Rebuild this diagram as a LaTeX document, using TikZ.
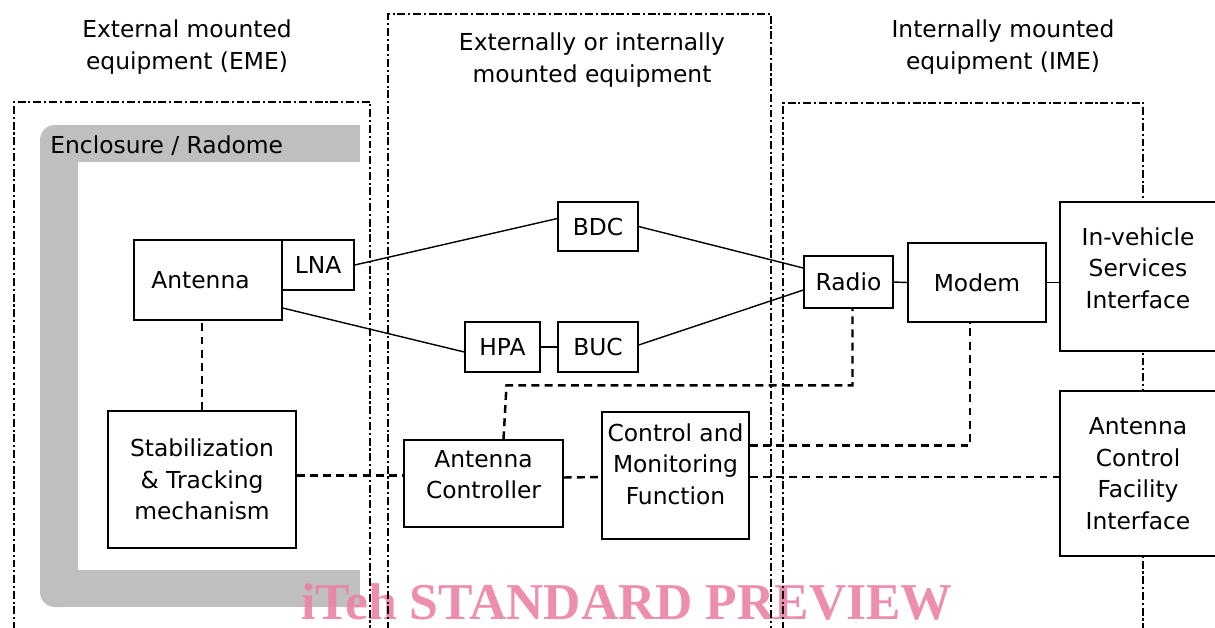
\documentclass[tikz,border=0pt]{standalone}
\usepackage{fontspec}
\setmainfont{DejaVu Sans}
\newfontfamily\wmfont{Liberation Serif}
\usetikzlibrary{calc}
\definecolor{enclgray}{RGB}{191,191,191}
\definecolor{wmpink}{RGB}{236,130,165}
\begin{document}
\begin{tikzpicture}[x=0.02cm,y=-0.02cm,
  every node/.style={font=\fontsize{13.3}{18}\selectfont},
  box/.style={draw,fill=white,line width=0.8pt,align=center,inner sep=0pt},
  link/.style={line width=0.8pt},
  ctrl/.style={line width=1.4pt,dash pattern=on 4.5pt off 3pt},
  zone/.style={line width=1.5pt,dash pattern=on 4.5pt off 1.6pt on 1.2pt off 1.6pt}]
\useasboundingbox (0,0) rectangle (1215,627);
% enclosure
\fill[enclgray,rounded corners=0.3cm] (40,125) rectangle (78,607);
\fill[enclgray] (55,125) rectangle (360,162);
\fill[enclgray] (55,570) rectangle (360,607);
\node[anchor=west,inner sep=0pt] (encl) at (50,146) {Enclosure / Radome};
% watermark
\node[text=wmpink,opacity=0.9,font=\wmfont\bfseries\fontsize{29.4}{30}\selectfont] (wm) at (627,602) {iTeh STANDARD PREVIEW};
% zones
\draw[zone] (14,630) -- (14,102) -- (370,102) -- (370,630);
\draw[zone] (388,630) -- (388,14) -- (771,14) -- (771,630);
\draw[zone] (783,630) -- (783,103) -- (1143,103) -- (1143,630);
\node[align=center] (eme) at (187,47) {External mounted\\equipment (EME)};
\node[align=center] (mid) at (592,60) {Externally or internally\\mounted equipment};
\node[align=center] (ime) at (1003,47) {Internally mounted\\equipment (IME)};
% boxes
\node[box,minimum width=2.96cm,minimum height=1.6cm] (ant) at (208,280) {Antenna\hspace{0.3cm}};
\node[box,minimum width=1.44cm,minimum height=1cm] (lna) at (318,265) {LNA};
\node[box,minimum width=3.76cm,minimum height=2.74cm] (stab) at (202,479.5) {Stabilization\\\& Tracking\\mechanism};
\node[box,minimum width=1.6cm,minimum height=0.98cm] (bdc) at (598,226.5) {BDC};
\node[box,minimum width=1.5cm,minimum height=1cm] (hpa) at (502.5,347) {HPA};
\node[box,minimum width=1.6cm,minimum height=1cm] (buc) at (598,347) {BUC};
\node[box,minimum width=1.78cm,minimum height=1.04cm] (radio) at (848.5,282) {Radio};
\node[box,minimum width=2.76cm,minimum height=1.58cm] (modem) at (977,282.5) {Modem};
\node[box,minimum width=3.12cm,minimum height=2.98cm] (ivsi) at (1138,276.5) {In-vehicle\\Services\\Interface\\[-0.295cm]};
\node[box,minimum width=3.18cm,minimum height=1.74cm] (actrl) at (483.5,483.5) {Antenna\\Controller\\[-0.275cm]};
\node[box,minimum width=2.94cm,minimum height=2.54cm] (cmf) at (675.5,475.5) {Control and\\Monitoring\\Function\\[-0.175cm]};
\node[box,minimum width=3.12cm,minimum height=3.3cm] (acfi) at (1138,473.5) {Antenna\\Control\\Facility\\Interface};
% rf links
\draw[link] (lna.east) -- ($(bdc.west)+(0,-8)$);
\draw[link] ($(ant.east)+(0,28)$) -- ($(hpa.west)+(0,5)$);
\draw[link] (hpa.east) -- (buc.west);
\draw[link] (bdc.east) -- ($(radio.west)+(0,-14)$);
\draw[link] ($(buc.east)+(0,-2)$) -- ($(radio.west)+(0,8)$);
\draw[link] (radio.east) -- (modem.west);
\draw[link] (modem.east) -- (modem.east -| ivsi.west);
% control links
\draw[ctrl] (stab.north) -- (stab.north |- ant.south);
\draw[ctrl] ($(stab.east)+(0,-4)$) -- ($(actrl.west)+(0,-8)$);
\draw[ctrl] ($(actrl.east)+(0,-6)$) -- ($(cmf.west)+(0,1.5)$);
\draw[ctrl] ($(actrl.north)+(20,0)$) -- ($(actrl.north)+(23,-54)$) -| ($(radio.south)+(4,0)$);
\draw[ctrl] ($(cmf.east)+(0,-30)$) -| ($(modem.south)+(-7,0)$);
\draw[ctrl] ($(cmf.east)+(0,1.5)$) -- ($(acfi.west)+(0,3.5)$);
\end{tikzpicture}
\end{document}
